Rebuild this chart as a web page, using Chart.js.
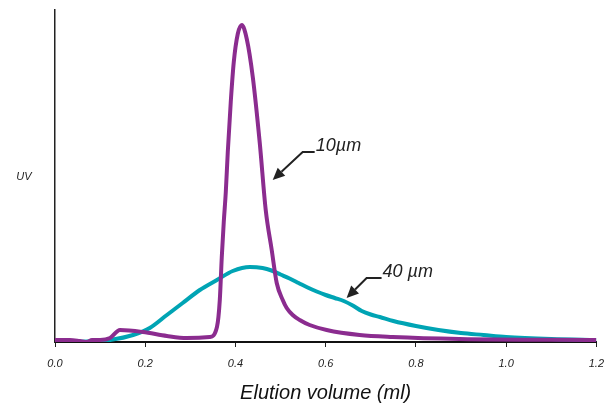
<!DOCTYPE html>
<html><head><meta charset="utf-8">
<script src="https://cdn.jsdelivr.net/npm/chart.js@4"></script>
<style>html,body{margin:0;padding:0;background:#fff}#wrap{width:614px;height:403px}</style>
</head><body><div id="wrap"><canvas id="c" width="614" height="403"></canvas></div>
<script>
const xTickValues = [0.0, 0.2, 0.4, 0.6, 0.8, 1.0, 1.2];
const xTitle = "Elution volume (ml)";
const yTitle = "UV";

const um10X = [0.0, 0.033, 0.055, 0.071, 0.082, 0.1, 0.122, 0.144, 0.195, 0.248, 0.292, 0.343, 0.359, 0.3653, 0.3697, 0.3741, 0.3786, 0.383, 0.3896, 0.3963, 0.4051, 0.414, 0.4251, 0.4384, 0.4539, 0.4671, 0.4804, 0.4915, 0.5048, 0.5136, 0.5269, 0.5424, 0.5645, 0.6022, 0.6752, 0.7483, 0.8966, 1.2];
const um10Y = [2, 2, 1, 0, 2, 2, 4, 12, 10, 6, 4, 5, 15, 42, 85, 120, 150, 190, 240, 280, 308, 317, 303, 265, 199, 132, 92, 59, 42, 34, 27, 22, 17, 12, 7, 5, 3, 2];

const um40X = [0.0, 0.1, 0.122, 0.173, 0.21, 0.248, 0.283, 0.321, 0.359, 0.394, 0.432, 0.46, 0.48, 0.5, 0.52, 0.54, 0.56, 0.58, 0.6, 0.62, 0.64, 0.66, 0.68, 0.7, 0.72, 0.75, 0.8, 0.85, 0.9, 0.95, 1.0, 1.1, 1.2];
const um40Y = [0, 1, 2, 7, 14, 27, 39, 52, 62, 71, 75, 74, 71.5, 67.5, 63.5, 59, 54.5, 50.5, 47, 44, 41, 36.5, 31, 27.5, 25, 21, 16, 12, 9, 7, 5, 3, 2];

const labels10 = "10\u00b5m";
const labels40 = "40 \u00b5m";

const toPts = (xs, ys) => xs.map((x, i) => ({x, y: ys[i]}));
const FONT = "'Liberation Sans', Arial, Helvetica, sans-serif";

const annot = {
  id: 'annot',
  afterDraw(chart) {
    const {ctx, scales: {x, y}} = chart;
    const items = [
      {tip: [0.4826, 162], elbow: [0.549, 190], end: [0.5756, 190], text: labels10, tx: 0.578, ty: 196},
      {tip: [0.6464, 44], elbow: [0.6907, 64], end: [0.7239, 64], text: labels40, tx: 0.7261, ty: 70}
    ];
    ctx.save();
    ctx.strokeStyle = '#222'; ctx.fillStyle = '#222'; ctx.lineWidth = 2;
    items.forEach(it => {
      const tx = x.getPixelForValue(it.tip[0]), ty = y.getPixelForValue(it.tip[1]);
      const ex = x.getPixelForValue(it.elbow[0]), ey = y.getPixelForValue(it.elbow[1]);
      const nx = x.getPixelForValue(it.end[0]);
      const ang = Math.atan2(ty - ey, tx - ex);
      const L = 12, W = 5.5;
      const bx = tx - L * Math.cos(ang), by = ty - L * Math.sin(ang);
      ctx.beginPath(); ctx.moveTo(nx, ey); ctx.lineTo(ex, ey); ctx.lineTo(bx, by); ctx.stroke();
      ctx.beginPath();
      ctx.moveTo(tx, ty);
      ctx.lineTo(bx + W * Math.sin(ang), by - W * Math.cos(ang));
      ctx.lineTo(bx - W * Math.sin(ang), by + W * Math.cos(ang));
      ctx.closePath(); ctx.fill();
      ctx.font = "italic 18px " + FONT;
      ctx.textBaseline = 'middle'; ctx.textAlign = 'left';
      ctx.fillText(it.text, x.getPixelForValue(it.tx), y.getPixelForValue(it.ty));
    });
    ctx.font = "italic 11px " + FONT;
    ctx.textAlign = 'center'; ctx.textBaseline = 'middle';
    ctx.fillText(yTitle, 24, 177);
    ctx.restore();
  }
};

new Chart(document.getElementById('c'), {
  type: 'line',
  data: {
    datasets: [
      {label: labels10, data: toPts(um10X, um10Y), borderColor: '#8B2C8F', borderWidth: 4, pointRadius: 0, cubicInterpolationMode: 'monotone', fill: false},
      {label: labels40, data: toPts(um40X, um40Y), borderColor: '#00A4B4', borderWidth: 4, pointRadius: 0, cubicInterpolationMode: 'monotone', fill: false}
    ]
  },
  options: {
    responsive: false, animation: false,
    layout: {padding: {top: 10, right: 17, left: 0, bottom: 0}},
    plugins: {legend: {display: false}, tooltip: {enabled: false}},
    scales: {
      x: {
        type: 'linear', min: 0, max: 1.2,
        afterBuildTicks: s => { s.ticks = xTickValues.map(v => ({value: v})); },
        afterFit: s => { s.height = 61; },
        grid: {display: true, drawOnChartArea: false, drawTicks: true, tickLength: 5, color: '#222', lineWidth: 1},
        border: {display: true, color: '#111', width: 2},
        ticks: {padding: 10, color: '#222', font: {family: FONT, size: 11, style: 'italic'}, callback: v => Number(v).toFixed(1), maxRotation: 0, autoSkip: false},
        title: {display: true, text: xTitle, color: '#111', font: {family: FONT, size: 20, style: 'italic', lineHeight: 1.0}, padding: {top: 8, bottom: 0}}
      },
      y: {
        min: 0, max: 332,
        afterFit: s => { s.width = 55; },
        grid: {display: false},
        border: {display: true, color: '#222', width: 1.5},
        ticks: {display: false}
      }
    }
  },
  plugins: [annot]
});
</script></body></html>
